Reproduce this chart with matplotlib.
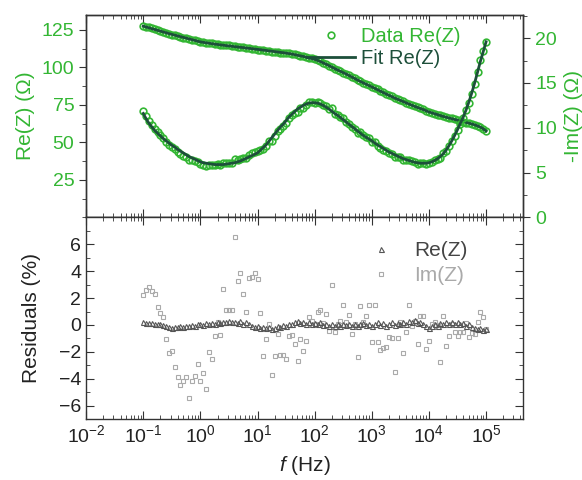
import numpy as np
import matplotlib
matplotlib.use("Agg")
import matplotlib.pyplot as plt
from matplotlib.ticker import LogLocator, MultipleLocator, NullFormatter
from matplotlib.lines import Line2D

plt.rcParams['font.family'] = ['Liberation Sans', 'DejaVu Sans']
plt.rcParams['mathtext.fontset'] = 'custom'
plt.rcParams['mathtext.rm'] = 'Liberation Sans'
plt.rcParams['mathtext.it'] = 'Liberation Sans:italic'

# frequencies: 0.1 Hz ... 100 kHz, 20 points per decade
freq = np.logspace(-1, 5, 121)

# fitted Re(Z) (Ohm), left axis
re_fit = [127.5, 126.9, 126.4, 125.8, 125.3, 124.7, 124.2, 123.6, 123.1, 122.5,
          122.0, 121.5, 121.0, 120.5, 120.0, 119.5, 119.0, 118.5, 118.0, 117.5,
          117.0, 116.7, 116.4, 116.1, 115.8, 115.5, 115.3, 115.0, 114.8, 114.5,
          114.3, 114.1, 113.8, 113.6, 113.4, 113.2, 112.9, 112.7, 112.5, 112.2,
          112.0, 111.8, 111.5, 111.3, 111.0, 110.8, 110.5, 110.3, 110.0, 109.8,
          109.5, 109.2, 108.9, 108.5, 108.1, 107.7, 107.3, 106.8, 106.3, 105.9,
          105.4, 104.7, 103.9, 103.0, 102.1, 101.2, 100.2, 99.2, 98.3, 97.4,
          96.5, 95.6, 94.6, 93.6, 92.6, 91.6, 90.6, 89.7, 88.8, 87.9,
          87.0, 86.1, 85.1, 84.2, 83.2, 82.3, 81.4, 80.5, 79.6, 78.8,
          78.0, 77.2, 76.4, 75.6, 74.8, 74.0, 73.3, 72.6, 71.9, 71.1,
          70.3, 69.7, 69.1, 68.5, 67.9, 67.3, 66.8, 66.3, 65.8, 65.3,
          64.8, 64.3, 63.8, 63.3, 62.8, 62.3, 61.7, 61.0, 60.2, 59.1,
          57.6]

# fitted -Im(Z) (Ohm), right axis
im_fit = [11.6, 11.0, 10.5, 10.1, 9.7, 9.4, 9.1, 8.8, 8.55, 8.3,
          8.05, 7.85, 7.6, 7.4, 7.2, 7.0, 6.8, 6.65, 6.5, 6.35,
          6.2, 6.1, 6.05, 6.0, 5.95, 5.9, 5.9, 5.9, 5.9, 5.95,
          6.0, 6.05, 6.1, 6.2, 6.3, 6.45, 6.6, 6.75, 6.9, 7.05,
          7.2, 7.5, 7.8, 8.1, 8.5, 8.9, 9.3, 9.7, 10.1, 10.4,
          10.8, 11.2, 11.5, 11.8, 12.1, 12.3, 12.5, 12.65, 12.75, 12.8,
          12.8, 12.75, 12.65, 12.5, 12.3, 12.1, 11.85, 11.6, 11.4, 11.15,
          10.9, 10.65, 10.4, 10.15, 9.9, 9.65, 9.4, 9.15, 8.95, 8.75,
          8.55, 8.3, 8.1, 7.9, 7.7, 7.5, 7.3, 7.15, 7.0, 6.85,
          6.7, 6.55, 6.45, 6.35, 6.25, 6.15, 6.1, 6.05, 6.05, 6.05,
          6.1, 6.2, 6.35, 6.55, 6.8, 7.1, 7.5, 8.0, 8.55, 9.15,
          9.8, 10.5, 11.2, 12.0, 12.9, 13.9, 15.0, 16.2, 17.4, 18.5,
          19.6]

# residuals (%)
re_res = [0.2, 0.15, 0.18, 0.12, 0.1, 0.05, 0.08, -0.02, -0.05, -0.15,
          -0.2, -0.12, -0.18, -0.1, -0.15, -0.05, -0.1, 0.0, -0.05, 0.05,
          0.1, 0.02, 0.12, 0.08, 0.15, 0.1, 0.2, 0.15, 0.25, 0.2,
          0.3, 0.22, 0.25, 0.15, 0.3, 0.1, 0.2, 0.05, -0.05, -0.15,
          -0.1, -0.2, -0.12, -0.25, -0.15, -0.3, -0.2, -0.1, -0.18, 0.0,
          -0.05, 0.1, 0.05, 0.2, 0.3, 0.15, 0.25, 0.1, 0.2, 0.05,
          0.15, 0.1, 0.2, 0.0, 0.1, -0.05, 0.1, -0.1, 0.05, -0.05,
          0.1, 0.0, 0.05, -0.1, 0.1, -0.05, 0.05, 0.15, 0.0, 0.1,
          -0.05, 0.05, 0.2, 0.0, 0.15, -0.05, 0.1, 0.2, 0.0, 0.15,
          0.05, 0.2, 0.1, 0.3, 0.2, 0.35, 0.15, 0.25, 0.1, -0.1,
          -0.2, -0.1, 0.05, -0.05, 0.15, 0.05, 0.2, 0.1, 0.25, 0.1,
          0.2, 0.05, 0.15, -0.05, 0.1, -0.15, -0.2, -0.3, -0.25, -0.35,
          -0.3]

im_res = [2.2, 2.6, 2.8, 2.55, 2.3, 1.3, 0.9, 0.6, -1.05, -2.05,
          -1.95, -3.1, -3.9, -4.5, -4.15, -3.9, -5.4, -4.15, -3.8, -2.9,
          -4.2, -3.6, -4.8, -2.0, -2.5, -0.85, 0.2, -0.75, 2.65, 1.15,
          1.15, 1.1, 6.55, 3.3, 3.9, 2.3, 0.95, 3.5, 3.6, 3.9,
          3.45, 0.9, -2.3, -1.05, 0.1, -3.7, -2.3, -0.65, -2.25, -2.25,
          -2.5, -0.8, -0.75, -1.45, -2.7, -1.05, -1.95, -1.2, 0.6, 0.3,
          0.1, 0.95, 1.1, 0.15, 0.8, -0.45, 2.95, -0.55, 0.05, 0.3,
          1.5, 0.2, 0.75, -0.7, 0.1, -2.35, 1.4, 0.2, 0.7, 1.5,
          -1.3, 1.5, -1.25, -1.9, -1.7, -1.65, -0.9, -0.95, -3.5, -1.0,
          0.2, -2.05, -0.5, 1.5, -0.05, 0.3, -1.4, 0.7, 0.7, -1.8,
          -1.2, 0.1, 0.25, 0.0, -2.75, 0.7, -1.55, -0.8, 0.1, -0.5,
          -0.85, -0.5, -0.5, 0.15, -0.9, -0.6, -0.65, 0.2, 0.95, 0.6,
          -0.3]

re_fit = np.array(re_fit)
im_fit = np.array(im_fit)
re_data = re_fit * (1 + np.array(re_res) / 100)
im_data = im_fit * (1 + np.array(im_res) / 100)

green = '#33b633'
dark = '#1d4f3a'
axcol = '#333333'

fig = plt.figure(figsize=(5.82, 4.8), dpi=100)
ax = fig.add_axes([0.148, 0.547, 0.751, 0.422])
ax2 = ax.twinx()
axr = fig.add_axes([0.148, 0.127, 0.751, 0.42], sharex=ax)

# top panel
ax.plot(freq, re_data, 'o', ms=4.8, mfc='none', mec=green, mew=1.2, zorder=2)
ax.plot(freq, re_fit, '-', color=dark, lw=2, zorder=3)
ax2.plot(freq, im_data, 'o', ms=4.8, mfc='none', mec=green, mew=1.2, zorder=2)
ax2.plot(freq, im_fit, '-', color=dark, lw=2, zorder=3)

ax.set_xscale('log')
ax.set_xlim(1e-2, 10 ** 5.65)
ax.set_ylim(0, 135)
ax2.set_ylim(0, 22.6)
ax.set_yticks([25, 50, 75, 100, 125])
ax.yaxis.set_minor_locator(MultipleLocator(12.5))
ax2.set_yticks([0, 5, 10, 15, 20])
ax2.yaxis.set_minor_locator(MultipleLocator(2.5))

ax.set_ylabel('Re(Z) (Ω)', color=green, fontsize=15, labelpad=5)
ax2.set_ylabel('-Im(Z) (Ω)', color=green, fontsize=15, labelpad=5)
ax.tick_params(axis='y', which='both', direction='out', colors=axcol, labelcolor=green, labelsize=14)
ax.tick_params(axis='y', which='major', length=5)
ax.tick_params(axis='y', which='minor', length=3)
ax2.tick_params(axis='y', which='both', direction='out', colors=axcol, labelcolor=green, labelsize=14)
ax2.tick_params(axis='y', which='major', length=5)
ax2.tick_params(axis='y', which='minor', length=3)
ax.tick_params(axis='x', which='both', direction='in', top=True, bottom=True,
               labelbottom=False, colors=axcol)
ax.tick_params(axis='x', which='major', length=6)
ax.tick_params(axis='x', which='minor', length=3)

handles = [Line2D([], [], ls='none', marker='o', ms=4.8, mfc='none', mec=green, mew=1.2),
           Line2D([], [], color=dark, lw=2)]
ax2.legend(handles, ['Data Re(Z)', 'Fit Re(Z)'], loc='upper right',
           bbox_to_anchor=(0.885, 1.0), frameon=False, fontsize=14.5,
           handlelength=2.4, handletextpad=0.3, labelspacing=0.15,
           labelcolor=[green, dark], borderaxespad=0.2)

# residual panel
axr.plot(freq, re_res, '^', ms=3.6, mfc='none', mec='#555555', mew=0.8, zorder=3)
axr.plot(freq, im_res, 's', ms=3.4, mfc='none', mec='#aaaaaa', mew=0.8, zorder=2)
axr.set_ylim(-7, 8)
axr.set_yticks([-6, -4, -2, 0, 2, 4, 6])
axr.yaxis.set_minor_locator(MultipleLocator(1))
axr.xaxis.set_major_locator(LogLocator(base=10, numticks=20))
axr.xaxis.set_minor_locator(LogLocator(base=10, subs=np.arange(2, 10), numticks=20))
axr.xaxis.set_minor_formatter(NullFormatter())
axr.tick_params(axis='both', which='both', direction='in', top=True, right=True,
                colors=axcol, labelcolor='#222222', labelsize=14)
axr.tick_params(axis='both', which='major', length=6)
axr.tick_params(axis='both', which='minor', length=3)
axr.set_ylabel('Residuals (%)', fontsize=15, color='#222222', labelpad=13)
axr.set_xlabel(r'$\mathit{f}$ (Hz)', fontsize=15, color='#222222', labelpad=6)

rh = [Line2D([], [], ls='none', marker='^', ms=3.6, mfc='none', mec='#555555', mew=0.8),
      Line2D([], [], ls='none', marker='s', ms=3.4, mfc='none', mec='#aaaaaa', mew=0.8)]
axr.legend(rh, ['Re(Z)', 'Im(Z)'], loc='upper right', bbox_to_anchor=(0.915, 0.975),
           frameon=False, fontsize=15, handlelength=2, handletextpad=0.6,
           labelspacing=0.3, labelcolor=['#444444', '#aaaaaa'])

for a in (ax, ax2, axr):
    for s in a.spines.values():
        s.set_color(axcol)
        s.set_linewidth(1)

fig.savefig('out.png', dpi=100)
